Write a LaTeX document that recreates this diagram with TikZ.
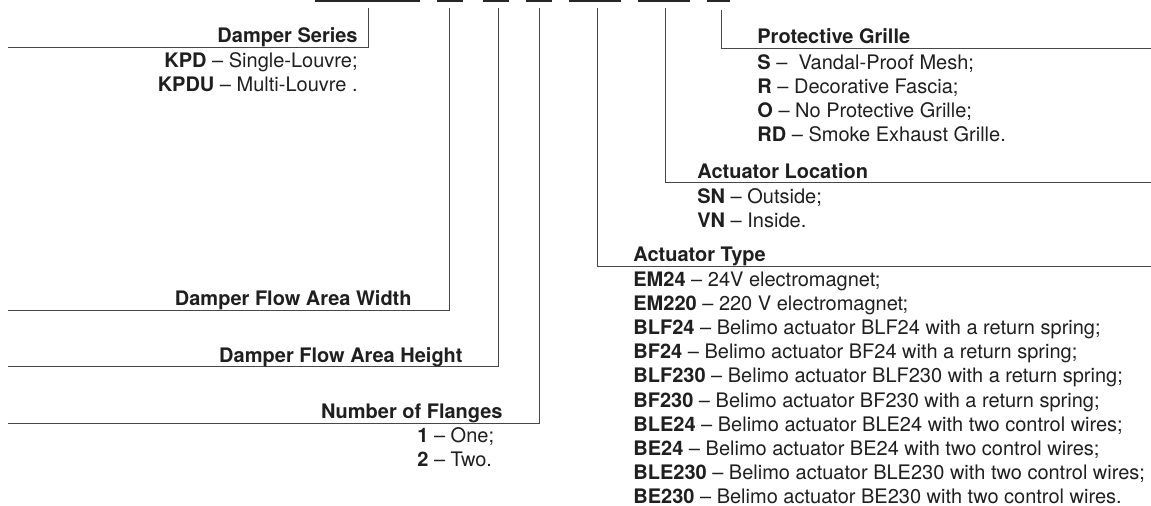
\documentclass[tikz,border=0pt]{standalone}
\usepackage{fontspec}
\setmainfont{TeX Gyre Heros}
\begin{document}
\begin{tikzpicture}[x=0.5pt, y=-0.5pt,
    keyline/.style={draw=black!72, line width=0.5pt},
    codebar/.style={fill=black!85},
    grouptitle/.style={font=\bfseries\fontsize{10}{12.1}\selectfont, text=black!88, inner sep=0pt},
    optionlist/.style={font=\fontsize{10}{12.1}\selectfont, text=black!88, inner sep=0pt}]
    \useasboundingbox (0,0) rectangle (1151,506);

    % Code Bars (Designation Fields)
    \fill[codebar] (315,0) rectangle (420,2.5);
    \fill[codebar] (437,0) rectangle (463,2.5);
    \fill[codebar] (483,0) rectangle (509,2.5);
    \fill[codebar] (526,0) rectangle (552,2.5);
    \fill[codebar] (569,0) rectangle (621,2.5);
    \fill[codebar] (638,0) rectangle (690,2.5);
    \fill[codebar] (707,0) rectangle (730,2.5);

    % Leader Coordinates (Top, Corner, Free End)
    \coordinate (seriesTop) at (368,8);   \coordinate (seriesCorner) at (368,48);   \coordinate (seriesEnd) at (8,48);
    \coordinate (widthTop) at (449,8);    \coordinate (widthCorner) at (449,311);   \coordinate (widthEnd) at (8,311);
    \coordinate (heightTop) at (498,8);   \coordinate (heightCorner) at (498,367);  \coordinate (heightEnd) at (8,367);
    \coordinate (flangeTop) at (539,8);   \coordinate (flangeCorner) at (539,424);  \coordinate (flangeEnd) at (8,424);
    \coordinate (typeTop) at (597,8);     \coordinate (typeCorner) at (597,267);    \coordinate (typeEnd) at (1151,267);
    \coordinate (locTop) at (665,8);      \coordinate (locCorner) at (665,183);     \coordinate (locEnd) at (1151,183);
    \coordinate (grilleTop) at (721,10);  \coordinate (grilleCorner) at (721,49);   \coordinate (grilleEnd) at (1151,49);

    % Leaders
    \draw[keyline] (seriesTop) -- (seriesCorner) -- (seriesEnd);
    \draw[keyline] (widthTop) -- (widthCorner) -- (widthEnd);
    \draw[keyline] (heightTop) -- (heightCorner) -- (heightEnd);
    \draw[keyline] (flangeTop) -- (flangeCorner) -- (flangeEnd);
    \draw[keyline] (typeTop) -- (typeCorner) -- (typeEnd);
    \draw[keyline] (locTop) -- (locCorner) -- (locEnd);
    \draw[keyline] (grilleTop) -- (grilleCorner) -- (grilleEnd);

    % Group Titles (Left side: right aligned, Right side: left aligned)
    \node[grouptitle, anchor=base east] (series) at (358,43) {Damper Series};
    \node[grouptitle, anchor=base east] (width) at (412,306) {Damper Flow Area Width};
    \node[grouptitle, anchor=base east] (height) at (463,363) {Damper Flow Area Height};
    \node[grouptitle, anchor=base east] (flange) at (503,419) {Number of Flanges};
    \node[grouptitle, anchor=base west] (acttype) at (633,262) {Actuator Type};
    \node[grouptitle, anchor=base west] (actloc) at (697,179) {Actuator Location};
    \node[grouptitle, anchor=base west] (grille) at (757,44) {Protective Grille};

    % Option Lists (anchored on the baseline of their last line)
    \node[optionlist, align=right, anchor=base east] (seriesList) at (358,92)
        {\textbf{KPD} – Single-Louvre;\\\textbf{KPDU} – Multi-Louvre .};
    \node[optionlist, align=left, anchor=base west] (flangeList) at (417,467)
        {\textbf{1} – One;\\\textbf{2} – Two.};
    \node[optionlist, align=left, anchor=base west] (grilleList) at (757,142)
        {\textbf{S} –~ Vandal-Proof Mesh;\\\textbf{R} – Decorative Fascia;\\\textbf{O} – No Protective Grille;\\\textbf{RD} – Smoke Exhaust Grille.};
    \node[optionlist, align=left, anchor=base west] (actlocList) at (697,228)
        {\textbf{SN} – Outside;\\\textbf{VN} – Inside.};
    \node[optionlist, align=left, anchor=base west] (acttypeList) at (633,504)
        {\textbf{EM24} – 24V electromagnet;\\
         \textbf{EM220} – 220 V electromagnet;\\
         \textbf{BLF24} – Belimo actuator BLF24 with a return spring;\\
         \textbf{BF24} – Belimo actuator BF24 with a return spring;\\
         \textbf{BLF230} – Belimo actuator BLF230 with a return spring;\\
         \textbf{BF230} – Belimo actuator BF230 with a return spring;\\
         \textbf{BLE24} – Belimo actuator BLE24 with two control wires;\\
         \textbf{BE24} – Belimo actuator BE24 with two control wires;\\
         \textbf{BLE230} – Belimo actuator BLE230 with two control wires;\\
         \textbf{BE230} – Belimo actuator BE230 with two control wires.};
\end{tikzpicture}
\end{document}
